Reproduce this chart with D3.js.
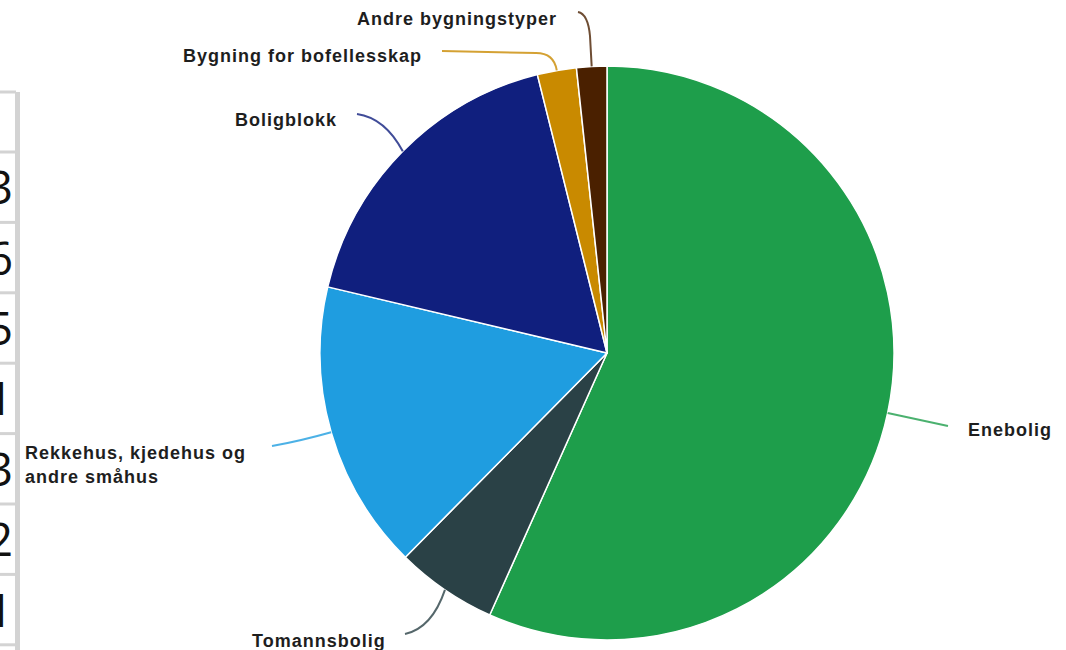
<!DOCTYPE html>
<html>
<head>
<meta charset="utf-8">
<script src="https://cdn.jsdelivr.net/npm/d3@7"></script>
<style>
  body { margin: 0; background: #fff; }
  svg { display: block; }
  .lbl { font-family: "Liberation Sans", Arial, sans-serif; font-weight: bold; font-size: 18px; fill: #1e1e1e; }
  .digit { font-family: "Open Sans", "Liberation Sans", sans-serif; font-size: 46px; fill: #111; }
</style>
</head>
<body>
<script>
// data
const categories = ["Enebolig", "Tomannsbolig", "Rekkehus, kjedehus og andre småhus",
  "Boligblokk", "Bygning for bofellesskap", "Andre bygningstyper"];
const shares = [56.7, 5.7, 16.3, 17.4, 2.2, 1.7];
const colors = ["#1e9e4b", "#2a4146", "#1f9de0", "#101f7e", "#c98a00", "#4a2000"];
const tableDigits = ["3", "6", "5", "1", "3", "2", "1"];

// label layout (lines of text, baseline positions, leader path after the slice point)
const labelLayout = [
  { lines: ["Enebolig"], x: 968, y: 436, leader: [["L", 948, 426]] },
  { lines: ["Tomannsbolig"], x: 252, y: 647, leader: [["Q", 432, 628, 405, 634]] },
  { lines: ["Rekkehus, kjedehus og", "andre småhus"], x: 25, y: 459, leader: [["Q", 300, 441, 272, 446]] },
  { lines: ["Boligblokk"], x: 235, y: 126, leader: [["Q", 385, 118, 357, 114]] },
  { lines: ["Bygning for bofellesskap"], x: 183, y: 62, leader: [["Q", 554, 53, 536, 53], ["L", 442, 51]] },
  { lines: ["Andre bygningstyper"], x: 357, y: 25, leader: [["L", 590, 36], ["Q", 588, 14, 578, 12]] }
];

const W = 1066, H = 650;
const cx = 607, cy = 353, radius = 287;

const svg = d3.select("body").append("svg")
  .attr("width", W)
  .attr("height", H);

// partial table at the left edge (cut off by the picture, as in the source)
const tableTop = 92, headH = 60, rowH = 70.4;
const tbl = svg.append("g");
tbl.append("rect")
  .attr("x", 15).attr("y", tableTop)
  .attr("width", 5).attr("height", H - tableTop)
  .attr("fill", "#d3d3d3");
const bounds = [tableTop].concat(d3.range(tableDigits.length + 1).map(i => tableTop + headH + i * rowH));
tbl.selectAll("rect.sep")
  .data(bounds)
  .enter()
  .append("rect")
  .attr("class", "sep")
  .attr("x", 0).attr("y", d => d - 1.5)
  .attr("width", 16).attr("height", 3)
  .attr("fill", "#d3d3d3");
tbl.selectAll("text")
  .data(tableDigits)
  .enter()
  .append("text")
  .attr("class", "digit")
  .attr("x", 13)
  .attr("y", (d, i) => tableTop + headH + i * rowH + rowH / 2 + 17)
  .attr("text-anchor", "end")
  .text(d => d);

// pie
const pie = d3.pie().sort(null).value(d => d);
const arcs = pie(shares);
const arc = d3.arc().innerRadius(0).outerRadius(radius);

const g = svg.append("g").attr("transform", "translate(" + cx + "," + cy + ")");

g.selectAll("path.slice")
  .data(arcs)
  .enter()
  .append("path")
  .attr("class", "slice")
  .attr("d", arc)
  .attr("fill", (d, i) => colors[i])
  .attr("stroke", "#fff")
  .attr("stroke-width", 1.5)
  .attr("stroke-linejoin", "round");

// leader lines: start on the rim at mid angle
svg.selectAll("path.leader")
  .data(arcs)
  .enter()
  .append("path")
  .attr("class", "leader")
  .attr("d", (d, i) => {
    const a = (d.startAngle + d.endAngle) / 2;
    const p = d3.path();
    p.moveTo(cx + radius * Math.sin(a), cy - radius * Math.cos(a));
    labelLayout[i].leader.forEach(s => {
      if (s[0] === "L") p.lineTo(s[1], s[2]);
      else p.quadraticCurveTo(s[1], s[2], s[3], s[4]);
    });
    return p.toString();
  })
  .attr("fill", "none")
  .attr("stroke", (d, i) => colors[i])
  .attr("stroke-opacity", 0.8)
  .attr("stroke-width", 2);

// labels
const lbl = svg.selectAll("text.lbl")
  .data(labelLayout)
  .enter()
  .append("text")
  .attr("class", "lbl")
  .attr("x", d => d.x)
  .attr("y", d => d.y)
  .attr("letter-spacing", 1.0);
lbl.selectAll("tspan")
  .data(d => d.lines.map((t, j) => ({ t: t, x: d.x, j: j })))
  .enter()
  .append("tspan")
  .attr("x", d => d.x)
  .attr("dy", d => d.j === 0 ? 0 : 24)
  .text(d => d.t);
</script>
</body>
</html>
